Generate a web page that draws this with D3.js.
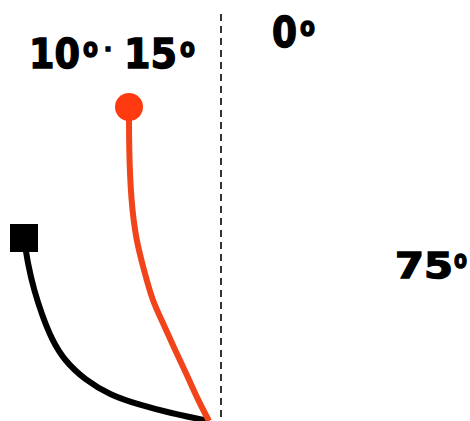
<!DOCTYPE html>
<html>
<head>
    <script type="text/javascript" src="https://d3js.org/d3.v7.min.js"></script>
    <style>
        body { margin: 0; background: #fff; }
        text { font-family: "DejaVu Sans", Arial, sans-serif; font-weight: bold; }
    </style>
</head>
<body>
    <div id="svgcontainer"></div>
    <script>
        var width = 470;
        var height = 421;

        // positions relative to the pivot on the ground (x: sideways, y: height)
        var redX = [-9.1, -9.1, -8.9, -8.4, -7.6, -6.8, -5.6, -4.5, -3.3, -2.2, -1.1];
        var redY = [31.4, 27.1, 22.1, 18.1, 15.1, 12.1, 9.6, 7.1, 4.6, 2.1, 0];
        var blackX = [-19.6, -19.2, -18.6, -17.8, -16.8, -15.6, -13.5, -11.0, -8.0, -5.0, -1.1];
        var blackY = [18.3, 15.6, 13.1, 10.6, 8.1, 6.1, 4.1, 2.6, 1.6, 0.8, 0];

        // angle labels, split into number / degree-o / dash pieces
        var labelText = ["10", "o", "-", "15", "o", "0", "o", "75", "o"];
        var labelX = [29, 83, 105, 124, 180, 272, 300, 395, 454];
        var labelY = [68, 57, 57, 68, 57, 47, 36, 278, 268];
        var labelSize = [40, 27, 28, 40, 27, 42, 27, 35, 25];
        var labelLen = [51, 15, 6, 53, 15, 25, 15, 58, 13];

        var svg = d3.select("#svgcontainer")
            .append("svg")
            .attr("width", width)
            .attr("height", height);

        var x = d3.scaleLinear().domain([-22, 25]).range([0, 470]);
        var y = d3.scaleLinear().domain([0, 42.1]).range([421, 0]);

        // vertical reference line (0 degrees)
        svg.append("line")
            .attr("x1", x(0.1)).attr("x2", x(0.1))
            .attr("y1", y(40.7)).attr("y2", y(0))
            .attr("stroke", "#333").attr("stroke-width", 2)
            .attr("stroke-dasharray", "7,5");

        var line = d3.line()
            .x(d => x(d[0]))
            .y(d => y(d[1]))
            .curve(d3.curveBasis);

        svg.append("path").attr("d", line(d3.zip(blackX, blackY)))
            .attr("fill", "none").attr("stroke", "#000").attr("stroke-width", 6);
        svg.append("path").attr("d", line(d3.zip(redX, redY)))
            .attr("fill", "none").attr("stroke", "#f2441a").attr("stroke-width", 6);

        svg.append("rect")
            .attr("x", x(blackX[0]) - 14).attr("y", y(blackY[0]) - 14)
            .attr("width", 28).attr("height", 28)
            .attr("fill", "#000");

        svg.append("circle")
            .attr("cx", x(redX[0])).attr("cy", y(redY[0]))
            .attr("r", 14)
            .attr("fill", "#ff3a10");

        svg.selectAll("text.lbl")
            .data(labelText)
            .enter().append("text")
            .attr("class", "lbl")
            .attr("x", (d, i) => labelX[i])
            .attr("y", (d, i) => labelY[i])
            .attr("font-size", (d, i) => labelSize[i])
            .attr("textLength", (d, i) => labelLen[i])
            .attr("lengthAdjust", "spacingAndGlyphs")
            .attr("fill", "#000")
            .attr("stroke", "#000")
            .attr("stroke-width", 1.4)
            .text(d => d);
    </script>
</body>
</html>
